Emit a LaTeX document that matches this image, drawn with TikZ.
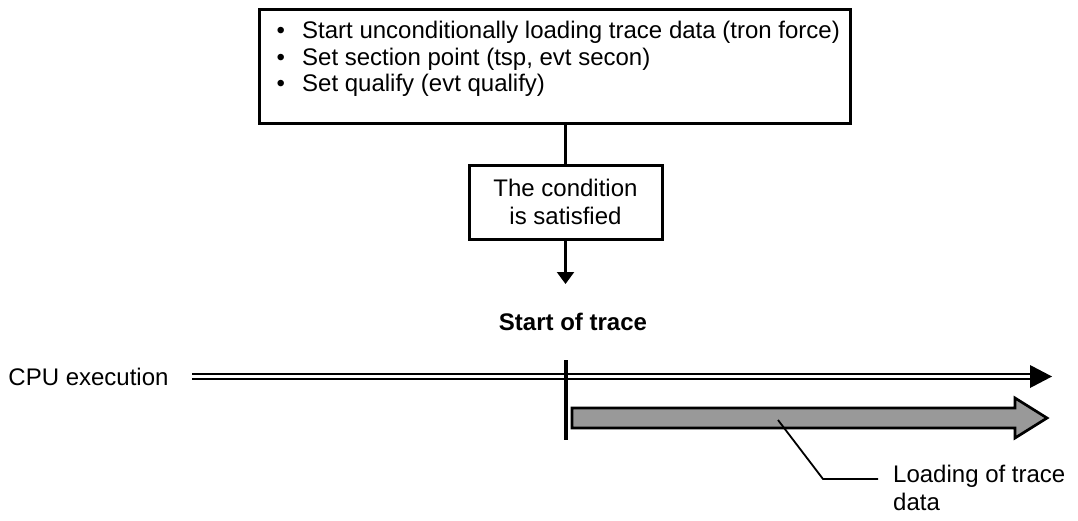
\documentclass[tikz,border=0pt]{standalone}
\usepackage{fontspec}
\setmainfont{Liberation Sans}
\usetikzlibrary{arrows.meta}
\definecolor{bargray}{HTML}{999999}
\newcommand{\mybul}{\makebox[27pt][l]{\hspace{1.5pt}\textbullet}}
\begin{document}
\begin{tikzpicture}[x=1pt,y=-1pt,
  font=\fontsize{24}{28}\selectfont,
  boxstyle/.style={draw, line width=3pt, inner sep=0pt},
  conn/.style={line width=2.2pt},
  lbl/.style={inner sep=0pt}]
\useasboundingbox (0,0) rectangle (1078,520);
% top box
\node[boxstyle, minimum width=591pt, minimum height=114pt, anchor=north west] (top) at (258,8) {};
\node[lbl, anchor=west, align=left, font=\fontsize{24}{26.5}\selectfont] (toplist) at (275,59)
  {\mybul Start unconditionally loading trace data (tron force)\\
   \mybul Set section point (tsp, evt secon)\\
   \mybul Set qualify (evt qualify)};
% condition box
\node[boxstyle, minimum width=193pt, minimum height=74pt, align=center] (cond) at (565.5,202)
  {The condition\\is satisfied};
\draw[conn] (cond.north |- top.south) -- (cond.north);
\coordinate (arrtip) at (565.5,284);
\draw[conn, -{Triangle[width=17pt,length=12pt]}] (cond.south) -- (arrtip);
\node[lbl, font=\fontsize{24}{28}\selectfont\bfseries] (start) at (573,322) {Start of trace};
% CPU execution
\node[lbl] (cpu) at (88.5,377) {CPU execution};
\coordinate (cpuA) at (192,376.5);
\coordinate (cpuB) at (1030,376.5);
\coordinate (cpuTip) at (1052,376.5);
\draw[line width=2.5pt, double, double distance=2.5pt] (cpuA) -- (cpuB);
\fill (cpuB |- 0,365) -- (cpuTip) -- (cpuB |- 0,388) -- cycle;
% start bar
\coordinate (barT) at (566,360);
\coordinate (barB) at (566,440);
\draw[line width=3.5pt] (barT) -- (barB);
% gray arrow
\filldraw[fill=bargray, draw=black, line width=2.7pt, line join=miter]
  (572,408) -- (1015,408) -- (1015,398) -- (1047,418) -- (1015,438) -- (1015,428) -- (572,428) -- cycle;
\coordinate (leadA) at (778,420);
% leader and label
\node[lbl, anchor=north west, align=left] (load) at (893,465) {Loading of trace\\data};
\coordinate (leadB) at (823,479);
\coordinate (leadC) at (878,479);
\draw[line width=1.8pt] (leadA) -- (leadB) -- (leadC);
\end{tikzpicture}
\end{document}
